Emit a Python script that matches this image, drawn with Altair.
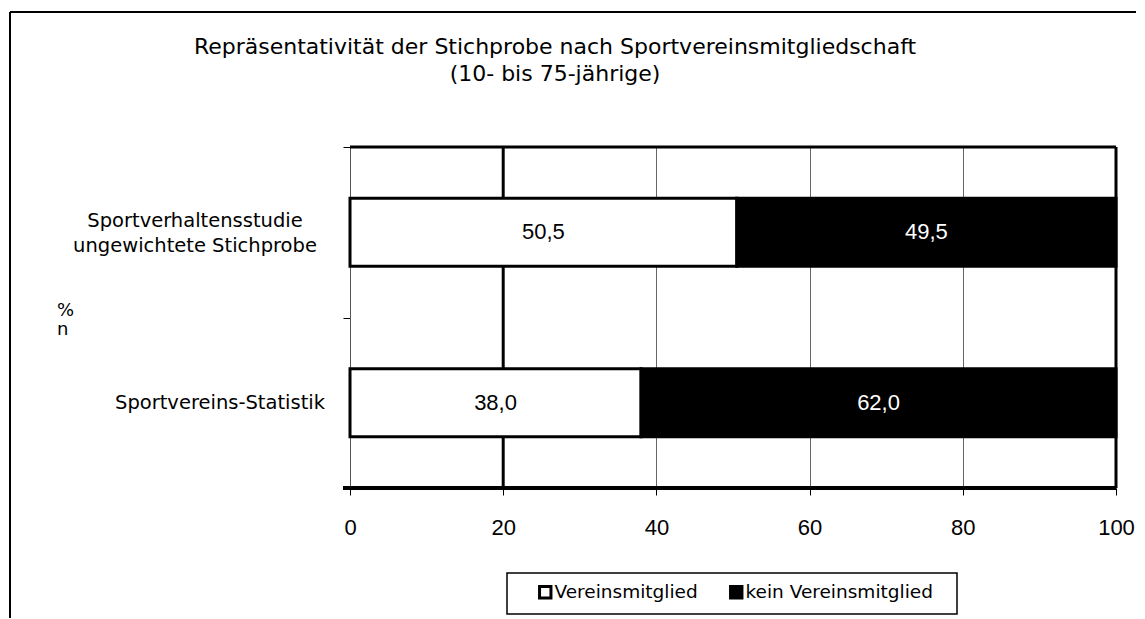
import altair as alt
import pandas as pd

# ---- data ----
categories = ["Sportverhaltensstudie", "Sportvereins-Statistik"]
cat_labels = ["Sportverhaltensstudie\nungewichtete Stichprobe", "Sportvereins-Statistik"]
series = ["Vereinsmitglied", "kein Vereinsmitglied"]
verein = [50.5, 38.0]
kein_verein = [49.5, 62.0]
x_ticks = [0, 20, 40, 60, 80, 100]
thick_lines = [20, 100]
title_text = "Repräsentativität der Stichprobe nach Sportvereinsmitgliedschaft\n(10- bis 75-jährige)"

FONT = "DejaVu Sans"
NUMFONT = "Liberation Sans"
W, H = 766, 341

rows = []
for i, c in enumerate(categories):
    rows.append({"category": c, "series": series[0], "value": verein[i], "order": 0})
    rows.append({"category": c, "series": series[1], "value": kein_verein[i], "order": 1})
df = pd.DataFrame(rows)

lab_df = pd.DataFrame({"category": categories, "label": cat_labels})
thick_df = pd.DataFrame({"v": thick_lines})
one = pd.DataFrame({"v": [0]})

yscale = alt.Scale(domain=categories, paddingInner=0.6, paddingOuter=0.3)

base = alt.Chart(df).transform_stack(
    stack="value", groupby=["category"], as_=["x0", "x1"],
    sort=[alt.SortField("order", order="ascending")]
).transform_calculate(
    mid="(datum.x0 + datum.x1) / 2",
    txt="replace(format(datum.value, '.1f'), '.', ',')"
)

bars = base.mark_bar(stroke="black", strokeWidth=3).encode(
    x=alt.X("x0:Q", scale=alt.Scale(domain=[0, 100], nice=False),
            axis=alt.Axis(values=x_ticks, title=None, grid=True, gridColor="#666",
                          gridWidth=1, domain=False, ticks=True, tickSize=7,
                          tickColor="black", labelPadding=22, labelFontSize=22,
                          labelFlush=False, labelColor="black", labelFont=NUMFONT)),
    x2="x1:Q",
    y=alt.Y("category:N", scale=yscale,
            axis=alt.Axis(labels=False, title=None, tickOffset=-85.25, domain=True,
                          domainColor="#555", domainWidth=1, ticks=True,
                          tickColor="black", tickSize=7, grid=False)),
    fill=alt.Fill("series:N", scale=alt.Scale(domain=series, range=["white", "black"]),
                  legend=alt.Legend(title=None, orient="none", legendX=186, legendY=436,
                                    direction="horizontal", padding=0,
                                    symbolType="square", symbolSize=130,
                                    symbolStrokeColor="black", symbolStrokeWidth=3,
                                    labelFontSize=18.5, labelFont=FONT, labelLimit=400,
                                    labelColor="black", columnPadding=26, labelOffset=0)),
)

seg_text = base.mark_text(fontSize=22, font=NUMFONT).encode(
    x=alt.X("mid:Q"),
    y=alt.Y("category:N", scale=yscale),
    text="txt:N",
    color=alt.Color("series:N", scale=alt.Scale(domain=series, range=["black", "white"]),
                    legend=None),
)

thick = alt.Chart(thick_df).mark_rule(strokeWidth=3, color="black").encode(
    x=alt.X("v:Q")
)

top_border = alt.Chart(one).mark_rule(strokeWidth=3, color="black").encode(
    x=alt.value(0), x2=alt.value(W), y=alt.value(0)
)
bottom_border = alt.Chart(one).mark_rule(strokeWidth=4, color="black").encode(
    x=alt.value(-7), x2=alt.value(W), y=alt.value(H)
)

# outer frame of the figure
frame_top = alt.Chart(one).mark_rule(strokeWidth=2, color="black").encode(
    x=alt.value(-340), x2=alt.value(W + 40), y=alt.value(-135)
)
frame_left = alt.Chart(one).mark_rule(strokeWidth=2, color="black").encode(
    x=alt.value(-340), y=alt.value(-135), y2=alt.value(H + 140)
)

# legend frame
legend_box = alt.Chart(one).mark_rect(fill="white", stroke="black", strokeWidth=1.5).encode(
    x=alt.value(157), x2=alt.value(607), y=alt.value(426), y2=alt.value(467)
)

title = alt.Chart(one).mark_text(align="center", baseline="alphabetic", lineBreak="\n",
                                 fontSize=22, lineHeight=27, font=FONT,
                                 color="black").encode(
    x=alt.value(205), y=alt.value(-93), text=alt.value(title_text)
)

lab1 = alt.Chart(lab_df).transform_filter(
    alt.datum.category == categories[0]
).mark_text(align="center", baseline="middle", lineBreak="\n", fontSize=19.5,
            lineHeight=25, dy=-11, font=FONT, color="black").encode(
    x=alt.value(-155), y=alt.Y("category:N", scale=yscale), text="label:N"
)
lab2 = alt.Chart(lab_df).transform_filter(
    alt.datum.category == categories[1]
).mark_text(align="right", baseline="middle", fontSize=19.5,
            font=FONT, color="black").encode(
    x=alt.value(-25), y=alt.Y("category:N", scale=yscale), text="label:N"
)

pct = alt.Chart(one).mark_text(align="left", baseline="middle", lineBreak="\n",
                               fontSize=18, lineHeight=19, font=FONT,
                               color="black").encode(
    x=alt.value(-293), y=alt.value(164), text=alt.value("%\nn")
)

chart = alt.layer(
    frame_top, frame_left, legend_box, thick, bars, top_border, bottom_border,
    seg_text, lab1, lab2, pct, title
).properties(
    width=W, height=H,
    autosize=alt.AutoSizeParams(type="none"),
    padding={"left": 342, "top": 139, "right": 20, "bottom": 130},
).configure_view(stroke=None).configure(background="white")

chart.save("out.html", embed_options={"renderer": "svg", "actions": False})
